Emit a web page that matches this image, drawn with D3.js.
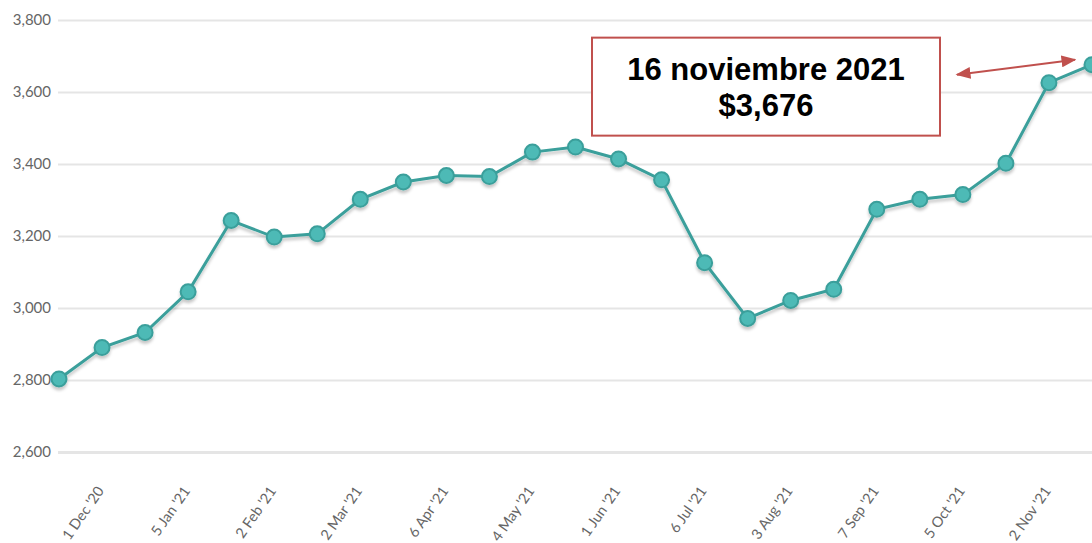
<!DOCTYPE html>
<html>
<head>
<meta charset="utf-8">
<script src="https://cdn.jsdelivr.net/npm/d3@7"></script>
<style>
  body { margin: 0; background: #fff; }
  svg { display: block; }
</style>
</head>
<body>
<div id="chart"></div>
<script>
const dates = ["17 Nov '20", "1 Dec '20", "15 Dec '20", "5 Jan '21", "19 Jan '21", "2 Feb '21",
  "16 Feb '21", "2 Mar '21", "16 Mar '21", "6 Apr '21", "20 Apr '21", "4 May '21", "18 May '21",
  "1 Jun '21", "15 Jun '21", "6 Jul '21", "20 Jul '21", "3 Aug '21", "17 Aug '21", "7 Sep '21",
  "21 Sep '21", "5 Oct '21", "19 Oct '21", "2 Nov '21", "16 Nov '21"];
const prices = [2803, 2890, 2932, 3045, 3243, 3197, 3206, 3302, 3350, 3368, 3365, 3433, 3447,
  3414, 3356, 3126, 2971, 3021, 3052, 3274, 3302, 3315, 3402, 3626, 3676];
const yTicks = [2600, 2800, 3000, 3200, 3400, 3600, 3800];
const noteLines = ["16 noviembre 2021", "$3,676"];

const teal = "#3a9f9b";
const tealFill = "#4dbab6";
const red = "#c0504d";

const width = 1092;
const height = 543;
const margin = { top: 20, right: 0, bottom: 91, left: 59 };

const svg = d3
  .select("#chart")
  .append("svg")
  .attr("width", width)
  .attr("height", height);

const defs = svg.append("defs");
defs.append("filter")
  .attr("id", "shadow")
  .attr("x", "-20%").attr("y", "-20%").attr("width", "140%").attr("height", "160%")
  .append("feDropShadow")
  .attr("dx", 0).attr("dy", 3).attr("stdDeviation", 1.6)
  .attr("flood-color", "#000").attr("flood-opacity", 0.22);

["start", "end"].forEach((id) => {
  defs.append("marker")
    .attr("id", "arrow-" + id)
    .attr("viewBox", "0 0 10 10")
    .attr("preserveAspectRatio", "none")
    .attr("refX", 9)
    .attr("refY", 5)
    .attr("markerWidth", 15)
    .attr("markerHeight", 12)
    .attr("markerUnits", "userSpaceOnUse")
    .attr("orient", "auto-start-reverse")
    .append("path")
    .attr("d", "M0,0 L10,5 L0,10 z")
    .attr("fill", red);
});

const x = d3.scalePoint()
  .domain(dates)
  .range([margin.left, width - margin.right]);

const y = d3.scaleLinear()
  .domain([2600, 3800])
  .range([height - margin.bottom, margin.top]);

// gridlines + y labels
const yAxis = svg.append("g")
  .attr("transform", `translate(${margin.left - 1}, 0)`)
  .call(d3.axisRight(y).tickValues(yTicks).tickSize(width).tickFormat(d3.format(",")));
yAxis.select(".domain").remove();
yAxis.selectAll(".tick line")
  .attr("stroke", "#e5e5e5")
  .attr("stroke-width", (d) => d === 2600 ? 3 : 2);
yAxis.selectAll(".tick text")
  .attr("x", -7)
  .attr("text-anchor", "end")
  .attr("fill", "#666")
  .style("font-family", "Lato, 'Open Sans', sans-serif")
  .style("font-size", "15px");

// x labels, every other date
const xAxis = svg.append("g")
  .attr("transform", `translate(0, ${y(2600)})`)
  .call(d3.axisBottom(x).tickValues(dates.filter((d, i) => i % 2 === 1)).tickSize(0));
xAxis.select(".domain").remove();
xAxis.selectAll(".tick text")
  .attr("fill", "#666")
  .attr("text-anchor", "end")
  .attr("transform", "translate(-2, 36) rotate(-55)")
  .attr("dy", "0.35em")
  .attr("y", 0)
  .style("font-family", "Lato, 'Open Sans', sans-serif")
  .style("font-size", "14.5px");

const data = dates.map((d, i) => ({ date: d, value: prices[i] }));

const series = svg.append("g").attr("filter", "url(#shadow)");

series.append("path")
  .datum(data)
  .attr("fill", "none")
  .attr("stroke", teal)
  .attr("stroke-width", 3)
  .attr("d", d3.line().x((d) => x(d.date)).y((d) => y(d.value)));

series.selectAll("circle")
  .data(data)
  .join("circle")
  .attr("cx", (d) => x(d.date))
  .attr("cy", (d) => y(d.value))
  .attr("r", 7.5)
  .attr("fill", tealFill)
  .attr("stroke", teal)
  .attr("stroke-width", 2);

// annotation
const last = data[data.length - 1];
const lx = x(last.date);
const ly = y(last.value);
const box = { x: lx - 500, y: ly - 27, w: 348, h: 98 };

svg.append("rect")
  .attr("x", box.x)
  .attr("y", box.y)
  .attr("width", box.w)
  .attr("height", box.h)
  .attr("fill", "#fff")
  .attr("stroke", red)
  .attr("stroke-width", 2);

svg.append("text")
  .attr("x", box.x + box.w / 2)
  .attr("y", box.y + 42)
  .attr("text-anchor", "middle")
  .style("font-family", "'Liberation Sans', Arial, sans-serif")
  .style("font-weight", "bold")
  .style("font-size", "31px")
  .attr("fill", "#000")
  .selectAll("tspan")
  .data(noteLines)
  .join("tspan")
  .attr("x", box.x + box.w / 2)
  .attr("dy", (d, i) => i === 0 ? 0 : 36)
  .text((d) => d);

svg.append("line")
  .attr("x1", box.x + box.w + 17)
  .attr("y1", ly + 10)
  .attr("x2", lx - 17)
  .attr("y2", ly - 5)
  .attr("stroke", red)
  .attr("stroke-width", 2)
  .attr("marker-start", "url(#arrow-start)")
  .attr("marker-end", "url(#arrow-end)");
</script>
</body>
</html>
